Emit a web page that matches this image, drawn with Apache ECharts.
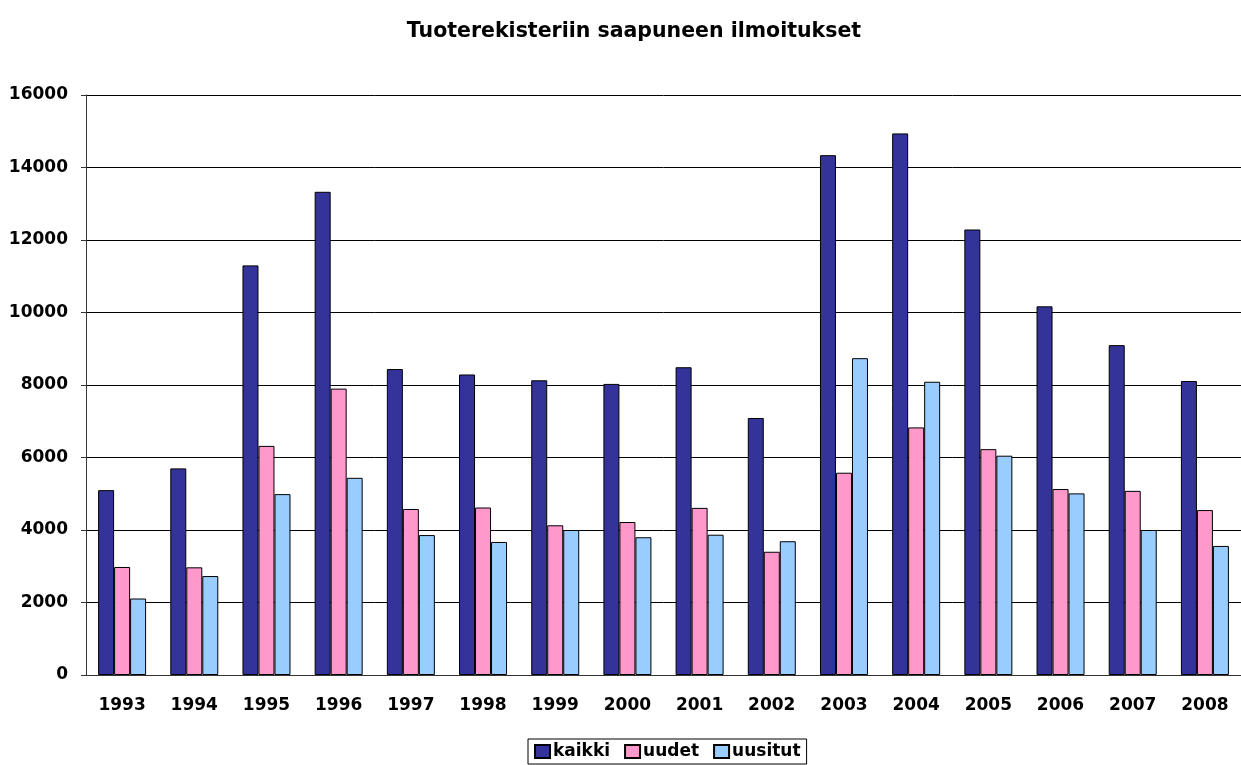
<!DOCTYPE html>
<html>
<head>
<meta charset="utf-8">
<script src="https://cdn.jsdelivr.net/npm/echarts@6/dist/echarts.min.js"></script>
<style>
  html, body { margin: 0; padding: 0; background: #fff; }
  #chart { width: 1241px; height: 765px; }
</style>
</head>
<body>
<div id="chart"></div>
<script>
const years = ['1993', '1994', '1995', '1996', '1997', '1998', '1999', '2000',
  '2001', '2002', '2003', '2004', '2005', '2006', '2007', '2008']
const kaikki = [5100, 5700, 11300, 13330, 8440, 8290, 8130, 8030, 8490, 7090, 14340, 14940, 12290, 10170, 9100, 8110]
const uudet = [2980, 2970, 6320, 7900, 4580, 4620, 4130, 4220, 4610, 3400, 5580, 6830, 6230, 5130, 5080, 4550]
const uusitut = [2110, 2730, 4990, 5440, 3860, 3670, 4000, 3800, 3870, 3690, 8740, 8090, 6050, 5010, 4000, 3560]

const font = '"DejaVu Sans", sans-serif'

;(function () {
  const myChart = echarts.init(document.getElementById('chart'))
  const bar = (name, data, color) => ({
    name: name,
    type: 'bar',
    data: data,
    barWidth: 16,
    barGap: '0%',
    itemStyle: { color: color, borderColor: '#000', borderWidth: 1 }
  })
  const option = {
    animation: false,
    title: {
      text: 'Tuoterekisteriin saapuneen ilmoitukset',
      left: 629,
      textAlign: 'center',
      top: 16,
      textStyle: { fontFamily: font, fontSize: 20.5, fontWeight: 'bold', color: '#000' }
    },
    legend: {
      left: 528,
      top: 739,
      padding: [4, 6, 4, 6],
      itemGap: 14,
      itemWidth: 15,
      itemHeight: 13,
      icon: 'rect',
      borderColor: '#000',
      borderWidth: 1,
      textStyle: { fontFamily: font, fontSize: 17, fontWeight: 'bold', color: '#000', padding: [0, 0, 0, -2] }
    },
    grid: { left: 86, right: -10, top: 95, bottom: 90 },
    xAxis: {
      type: 'category',
      data: years,
      axisLine: { lineStyle: { color: '#333', width: 1 } },
      axisTick: { lineStyle: { color: '#333' }, length: 6 },
      axisLabel: { fontFamily: font, fontSize: 17, fontWeight: 'bold', color: '#000', margin: 22 }
    },
    yAxis: {
      type: 'value',
      min: 0,
      max: 16000,
      interval: 2000,
      axisLine: { show: true, lineStyle: { color: '#333', width: 1 } },
      axisTick: { show: true, length: 5, lineStyle: { color: '#333' } },
      splitLine: { lineStyle: { color: '#000', width: 1 } },
      axisLabel: {
        fontFamily: font, fontSize: 17, fontWeight: 'bold', color: '#000', margin: 18,
        formatter: function (v) { return String(v) }
      }
    },
    series: [
      bar('kaikki', kaikki, '#333399'),
      bar('uudet', uudet, '#FF99CC'),
      bar('uusitut', uusitut, '#99CCFF')
    ]
  }
  myChart.setOption(option)
  window.addEventListener('resize', function () {
    myChart.resize()
  })
})()
</script>
</body>
</html>
